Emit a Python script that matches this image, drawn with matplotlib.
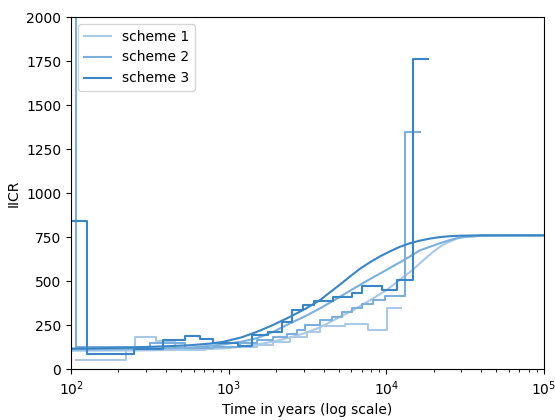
import matplotlib
matplotlib.use("Agg")
import matplotlib.pyplot as plt

# Piecewise-constant IICR estimates: interval boundaries (years) and value per interval
step1_times = [108, 223, 255, 346, 457, 707, 1019, 1512, 1910, 2447, 3137, 3793, 5464, 7642, 10090, 12380]
step1_values = [51, 120, 182, 160, 108, 118, 125, 136, 155, 184, 212, 244, 256, 222, 350]

step2_times = [80, 108, 317, 528, 795, 1179, 1512, 1910, 2343, 2711, 3046, 3793, 4519, 5229,
               6050, 7000, 8222, 9797, 13120, 16330]
step2_values = [2600, 125, 150, 120, 128, 150, 165, 184, 202, 222, 250, 278, 297, 326,
                350, 373, 392, 418, 1345]

step3_times = [80, 126, 251, 383, 528, 658, 795, 1145, 1405, 1775, 2180, 2520, 2960, 3475,
               4585, 6050, 7000, 9380, 11670, 14750, 18350]
step3_values = [840, 85, 112, 165, 191, 172, 150, 131, 193, 210, 269, 335, 364, 385,
                410, 430, 470, 450, 506, 1760]

# Theoretical IICR curves
curve1_times = [100, 250, 568, 920, 1200, 1512, 1950, 2447, 3050, 3793, 4800, 6140, 7900,
                10090, 12200, 14750, 17000, 19750, 22300, 25300, 28000, 31500, 45400, 100000]
curve1_values = [105, 106, 110, 118, 128, 140, 158, 180, 205, 237, 285, 335, 392,
                 450, 508, 565, 615, 665, 700, 725, 742, 752, 760, 760]

curve2_times = [100, 200, 317, 568, 920, 1200, 1512, 1950, 2447, 3050, 3793, 4800, 6140, 7900,
                10090, 12200, 14750, 16330, 21870, 25000, 29280, 39210, 100000]
curve2_values = [112, 114, 117, 122, 140, 156, 176, 215, 260, 300, 345, 398, 455, 512,
                 565, 607, 650, 675, 715, 732, 748, 758, 760]

curve3_times = [100, 130, 177, 240, 317, 420, 568, 750, 920, 1200, 1512, 1900, 2447, 3100,
                3793, 4400, 5078, 5900, 6800, 7900, 9104, 10600, 12190, 14100, 16330, 19000,
                21870, 25000, 29280, 39210, 100000]
curve3_values = [117, 118, 120, 123, 127, 131, 136, 145, 155, 180, 212, 250, 297, 345,
                 392, 437, 480, 527, 570, 608, 640, 670, 695, 715, 730, 742,
                 750, 755, 758, 760, 760]

labels = ["scheme 1", "scheme 2", "scheme 3"]
colors = ["#a9c9e6", "#7cafdb", "#3a85c5"]

fig = plt.figure(figsize=(5.55, 4.2), dpi=100)
ax = fig.add_axes([0.128, 0.121, 0.852, 0.8385])

steps = [(step1_times, step1_values), (step2_times, step2_values), (step3_times, step3_values)]
curves = [(curve1_times, curve1_values), (curve2_times, curve2_values), (curve3_times, curve3_values)]

for (st, sv), (ct, cv), lab, col in zip(steps, curves, labels, colors):
    ax.step(st, sv + [sv[-1]], where="post", color=col, lw=1.5)
    ax.plot(ct, cv, color=col, lw=1.5, label=lab)

ax.set_xscale("log")
ax.set_xlim(100, 1e5)
ax.set_ylim(0, 2000)
ax.set_yticks(range(0, 2001, 250))
ax.set_xlabel("Time in years (log scale)")
ax.set_ylabel("IICR")
ax.legend(loc="upper left")

fig.savefig("out.png", dpi=100)
